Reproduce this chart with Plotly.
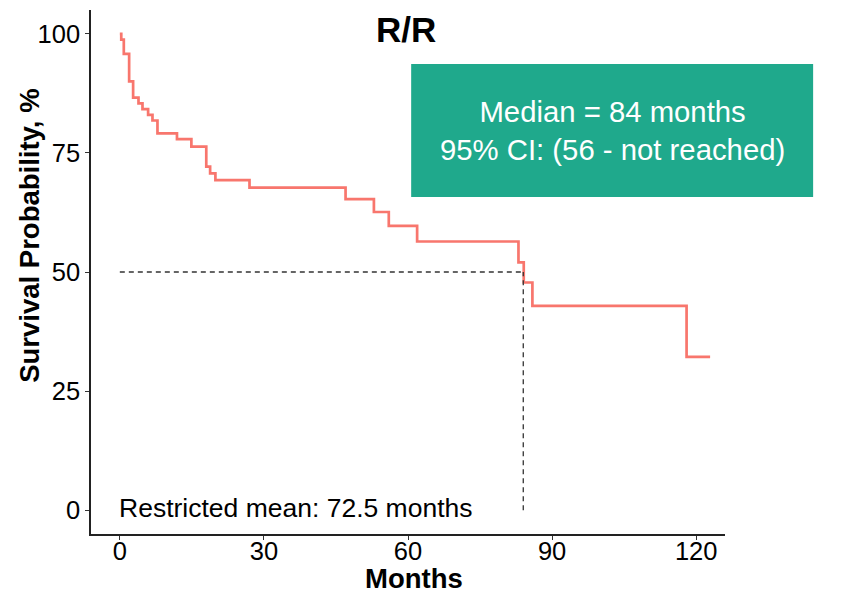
import plotly.graph_objects as go

# Kaplan-Meier step data (months, survival %)
months = [0, 0.3, 0.83, 1.94, 2.77, 3.89, 4.72, 5.89, 6.8, 7.84, 11.9, 14.9, 18.0, 18.8,
          19.9, 27.0, 47.0, 52.9, 56.0, 61.9, 83.0, 84.1, 85.9, 118.0, 122.9]
survival = [100, 98.8, 95.8, 90.0, 86.6, 85.4, 84.2, 83.0, 81.8, 79.1, 77.9, 76.3, 72.1, 70.7,
            69.3, 67.7, 65.3, 62.6, 59.7, 56.4, 52.0, 47.8, 42.9, 32.2, 32.2]

median_months = 84
median_level = 50
x_ticks = [0, 30, 60, 90, 120]
y_ticks = [0, 25, 50, 75, 100]

title_text = "R/R"
box_text = "Median = 84 months<br>95% CI: (56 - not reached)"
rmean_text = "Restricted mean: 72.5 months"
x_title = "Months"
y_title = "Survival Probability, %"

FONT = "Arial, Liberation Sans, sans-serif"

fig = go.Figure()
fig.add_trace(go.Scatter(x=months, y=survival, mode="lines", line_shape="hv",
                         line=dict(color="#F8766D", width=2.7), showlegend=False,
                         hoverinfo="skip"))
# median reference lines
fig.add_trace(go.Scatter(x=[0, median_months], y=[median_level, median_level], mode="lines",
                         line=dict(color="#333333", width=1.3, dash="5px,4px"),
                         showlegend=False, hoverinfo="skip"))
fig.add_trace(go.Scatter(x=[median_months, median_months], y=[0, median_level], mode="lines",
                         line=dict(color="#333333", width=1.3, dash="5px,4px"),
                         showlegend=False, hoverinfo="skip"))

fig.add_shape(type="rect", xref="paper", yref="paper", x0=0.505, x1=1.139, y0=0.643, y1=0.897,
              fillcolor="#1FA98C", line=dict(width=0), layer="above")
fig.add_annotation(xref="paper", yref="paper", x=(0.505 + 1.139) / 2, y=(0.643 + 0.897) / 2,
                   text=box_text, showarrow=False, font=dict(family=FONT, size=29.3, color="white"),
                   xanchor="center", yanchor="middle", align="center")
fig.add_annotation(xref="paper", yref="paper", x=0.497, y=0.962, text="<b>" + title_text + "</b>",
                   showarrow=False, font=dict(family=FONT, size=35, color="black"),
                   xanchor="center", yanchor="middle")
fig.add_annotation(x=-0.6, y=0.5, text=rmean_text, showarrow=False, xanchor="left",
                   yanchor="middle", font=dict(family=FONT, size=26.5, color="black"))
# axis titles
fig.add_annotation(xref="paper", yref="paper", x=0.51, y=-0.084, text="<b>" + x_title + "</b>",
                   showarrow=False, xanchor="center", yanchor="middle",
                   font=dict(family=FONT, size=27.5, color="black"))
fig.add_annotation(xref="paper", yref="paper", x=-0.0962, y=0.569, text="<b>" + y_title + "</b>",
                   showarrow=False, xanchor="center", yanchor="middle", textangle=-90,
                   font=dict(family=FONT, size=27.5, color="black"))

fig.update_layout(
    width=861, height=589,
    margin=dict(l=91, r=136, t=10, b=55),
    paper_bgcolor="white", plot_bgcolor="white",
    font=dict(family=FONT, color="black"),
    xaxis=dict(range=[-6, 126], tickvals=x_ticks, showgrid=False, zeroline=False,
               showline=True, linecolor="#222222", linewidth=1.5, ticks="outside",
               ticklen=4, tickcolor="#333333", tickfont=dict(size=25.5, color="black"),
               automargin=False, ticklabeloverflow="allow", ticklabelstandoff=-10),
    yaxis=dict(range=[-5, 105], tickvals=y_ticks, showgrid=False, zeroline=False,
               showline=True, linecolor="#222222", linewidth=1.5, ticks="outside",
               ticklen=4, tickcolor="#333333", tickfont=dict(size=25.5, color="black"),
               automargin=False, ticklabeloverflow="allow"),
)

fig.write_html("out.html", config={"displayModeBar": False},
               post_script="document.body.style.margin='0';document.body.style.overflow='hidden';")
